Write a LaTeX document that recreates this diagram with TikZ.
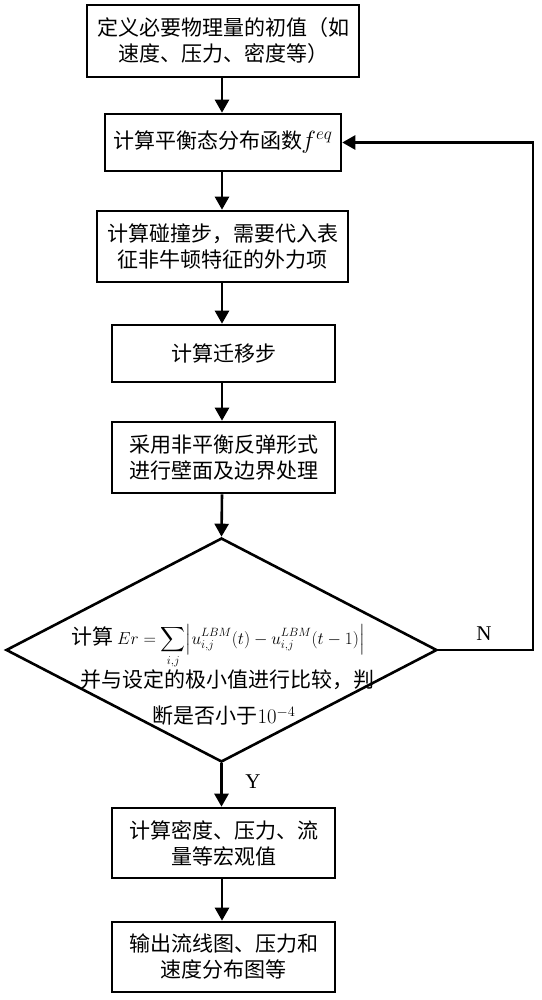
\documentclass[tikz,border=0pt]{standalone}
\usepackage{amsmath}
\usepackage{fontspec}
\setmainfont{Liberation Serif}
\newfontfamily\cjk{Noto Sans CJK SC}
\usetikzlibrary{arrows.meta,shapes.geometric}
\begin{document}
\begin{tikzpicture}[x=1pt,y=-1pt,
  every node/.style={inner sep=0pt},
  box/.style={draw, line width=2.6pt, align=center, font=\cjk\fontsize{21}{26}\selectfont},
  txt/.style={font=\cjk\fontsize{21}{26}\selectfont},
  lbl/.style={font=\fontsize{21}{24}\selectfont},
  conn/.style={line width=2.6pt, -{Triangle[length=13pt,width=14pt]}},
]
\useasboundingbox (0,0) rectangle (541,1000);
\node[box, minimum width=272pt, minimum height=72pt] (b1) at (223,41) {定义必要物理量的初值（如\\速度、压力、密度等）};
\node[box, minimum width=236pt, minimum height=57pt] (b2) at (223,142.5) {计算平衡态分布函数\hspace{-1pt}{\fontsize{23}{26}\selectfont$f^{eq}$}};
\node[box, minimum width=251pt, minimum height=71pt] (b3) at (222.5,246.5) {计算碰撞步，需要代入表\\征非牛顿特征的外力项};
\node[box, minimum width=223pt, minimum height=57pt] (b4) at (223.5,353.5) {计算迁移步};
\node[box, minimum width=223pt, minimum height=71pt] (b5) at (223.5,457.5) {采用非平衡反弹形式\\进行壁面及边界处理};
\node[draw, diamond, line width=2.6pt, minimum width=431pt, minimum height=224pt] (d) at (221.5,650) {};
\node[txt, anchor=base west] (dt1) at (71,644) {计算\hspace{4pt}{\fontsize{18}{24}\selectfont$\displaystyle Er=\sum_{i,j}\Bigl|u_{i,j}^{LBM}(t)-u_{i,j}^{LBM}(t-1)\Bigr|$}};
\node[txt] (dt2) at (227,680) {并与设定的极小值进行比较，判};
\node[txt] (dt3) at (224,716) {断是否小于$10^{-4}$};
\node[box, minimum width=223pt, minimum height=70pt] (b6) at (223.5,843) {计算密度、压力、流\\量等宏观值};
\node[box, minimum width=223pt, minimum height=70pt] (b7) at (223.5,957) {输出流线图、压力和\\速度分布图等};
\node[lbl] (n) at (484,634) {N};
\node[lbl] (y) at (253,782) {Y};
\coordinate (c1) at (533,650);
\coordinate (c2) at (533,142.5);
\draw[conn] (b1.south -| 222,0) -- (b2.north -| 222,0);
\draw[conn] (b2.south -| 222,0) -- (b3.north -| 222,0);
\draw[conn] (b3.south -| 222,0) -- (b4.north -| 222,0);
\draw[conn] (b4.south -| 222,0) -- (b5.north -| 222,0);
\draw[conn] (b5.south -| 222,0) -- (d.north);
\draw[conn] (d.south) -- (b6.north -| d.south);
\draw[conn] (b6.south -| 222,0) -- (b7.north -| 222,0);
\draw[conn] (d.east) -- (c1) -- (c2) -- (b2.east);
\end{tikzpicture}
\end{document}
